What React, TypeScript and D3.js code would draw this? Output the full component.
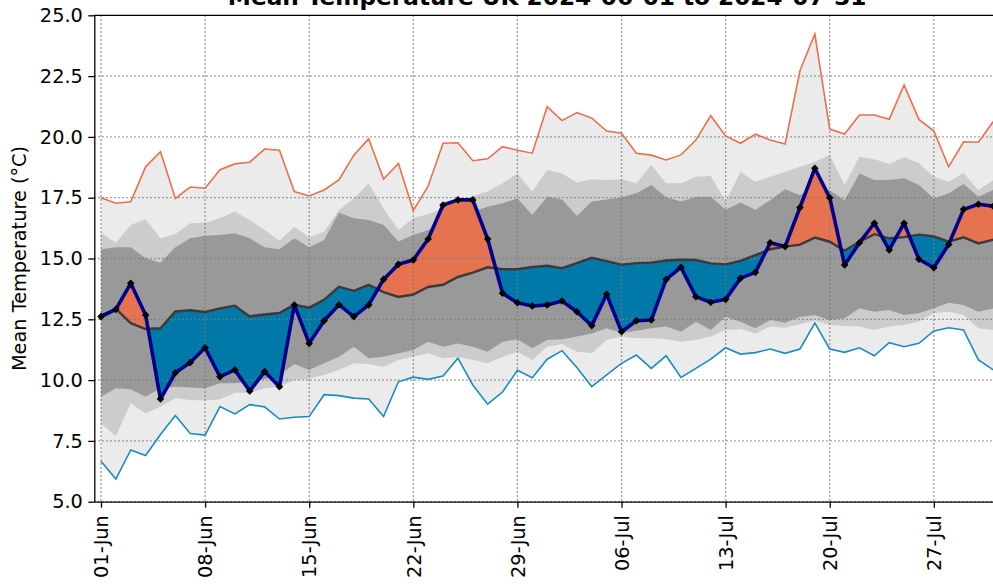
import React, { useRef, useEffect } from "react";
import * as d3 from "d3";

// daily values 2024-06-01 .. 2024-07-31
const observed = [
  12.61, 12.91, 13.98, 12.68, 9.22, 10.3, 10.72, 11.33, 10.14, 10.42,
  9.55, 10.35, 9.73, 13.09, 11.51, 12.44, 13.1, 12.61, 13.09, 14.14,
  14.76, 14.94, 15.8, 17.2, 17.41, 17.41, 15.8, 13.57, 13.18, 13.05,
  13.09, 13.25, 12.81, 12.24, 13.53, 11.99, 12.44, 12.47, 14.14, 14.64,
  13.43, 13.2, 13.32, 14.19, 14.43, 15.65, 15.49, 17.1, 18.71, 17.5,
  14.73, 15.65, 16.45, 15.35, 16.45, 14.97, 14.62, 15.58, 17.02, 17.23, 17.15
];

const climMean = [
  12.66, 12.93, 12.34, 12.1, 12.13, 12.82, 12.87, 12.8, 12.95, 13.06,
  12.62, 12.7, 12.76, 13.1, 12.98, 13.3, 13.84, 13.67, 13.92, 13.62,
  13.42, 13.52, 13.83, 13.92, 14.24, 14.42, 14.64, 14.56, 14.56, 14.65,
  14.7, 14.6, 14.81, 15.03, 14.89, 14.75, 14.81, 14.83, 14.92, 14.95,
  14.94, 14.8, 14.76, 14.9, 15.14, 15.38, 15.49, 15.57, 15.86, 15.69,
  15.32, 15.69, 16.0, 15.83, 15.88, 15.98, 15.91, 15.69, 15.87, 15.62, 15.77
];

const climMax = [
  17.5, 17.27, 17.33, 18.77, 19.39, 17.47, 17.94, 17.89, 18.65, 18.89,
  18.96, 19.5, 19.45, 17.75, 17.57, 17.82, 18.23, 19.25, 19.92, 18.27,
  18.91, 16.97, 17.98, 19.74, 19.76, 19.02, 19.1, 19.6, 19.45, 19.33,
  21.24, 20.67, 21.0, 20.77, 20.24, 20.15, 19.33, 19.25, 19.05, 19.26,
  19.87, 20.87, 20.04, 19.74, 20.11, 19.87, 19.71, 22.72, 24.23, 20.32,
  20.12, 20.9, 20.9, 20.72, 22.13, 20.72, 20.24, 18.77, 19.8, 19.78, 20.63
];

const climMin = [
  6.66, 5.93, 7.13, 6.9, 7.76, 8.54, 7.8, 7.74, 8.91, 8.61,
  8.99, 8.9, 8.4, 8.47, 8.5, 9.4, 9.36, 9.26, 9.22, 8.5,
  9.93, 10.12, 10.03, 10.17, 10.9, 9.8, 9.01, 9.51, 10.4, 10.1,
  10.86, 11.21, 10.52, 9.73, 10.21, 10.69, 11.03, 10.48, 11.0, 10.11,
  10.48, 10.86, 11.33, 11.07, 11.13, 11.28, 11.1, 11.28, 12.34, 11.28,
  11.14, 11.33, 11.0, 11.54, 11.37, 11.51, 12.02, 12.15, 12.06, 10.83, 10.42
];

// outer percentile band (light grey)
const outerHigh = [
  16.06, 15.65, 16.38, 16.61, 15.83, 16.01, 16.45, 16.47, 16.65, 16.93,
  16.58, 16.17, 15.73, 16.31, 15.87, 16.1, 16.99, 17.47, 18.09, 17.06,
  16.17, 16.65, 16.83, 17.07, 17.34, 17.57, 17.75, 18.09, 18.5, 17.75,
  18.64, 18.5, 18.12, 18.26, 18.23, 18.26, 18.09, 18.84, 18.09, 18.09,
  18.36, 18.39, 17.34, 18.56, 18.16, 18.36, 18.56, 18.77, 18.98, 19.26,
  18.02, 19.19, 19.08, 18.89, 19.16, 18.92, 18.36, 18.16, 18.52, 17.81, 18.23
];
const outerLow = [
  8.22, 7.7, 9.05, 8.63, 8.91, 9.25, 9.18, 9.16, 9.21, 9.48,
  9.48, 9.66, 9.73, 10.0, 10.07, 10.21, 10.42, 10.69, 10.66, 10.55,
  10.83, 10.96, 11.1, 10.9, 10.96, 10.83, 10.69, 10.96, 11.17, 10.83,
  11.37, 11.48, 11.17, 11.1, 11.65, 11.79, 11.72, 11.72, 11.68, 11.58,
  11.65, 11.79, 12.06, 12.1, 11.92, 12.2, 12.15, 12.3, 12.45, 12.27,
  12.22, 12.2, 12.06, 12.2, 12.27, 12.4, 12.75, 12.81, 12.68, 12.13, 12.06
];

// inner percentile band (dark grey)
const innerHigh = [
  15.38, 15.46, 15.46, 15.01, 14.83, 15.46, 15.83, 15.94, 15.97, 16.04,
  15.83, 15.46, 15.38, 15.83, 15.46, 15.76, 16.88, 16.65, 16.58, 16.38,
  15.7, 15.97, 16.17, 16.51, 16.75, 16.93, 17.13, 17.27, 17.47, 16.79,
  17.54, 17.43, 16.75, 17.34, 17.43, 17.52, 17.68, 18.02, 17.52, 17.34,
  17.54, 17.54, 17.0, 17.3, 17.0, 17.4, 17.85, 17.6, 18.0, 17.8,
  17.4, 18.5, 18.23, 18.23, 18.3, 18.02, 17.47, 17.68, 18.06, 17.54, 17.82
];
const innerLow = [
  9.32, 9.66, 9.62, 9.32, 9.66, 9.73, 9.7, 9.66, 9.87, 9.87,
  9.93, 10.03, 10.21, 10.66, 10.42, 10.69, 10.96, 11.37, 10.9, 10.96,
  11.1, 11.24, 11.58, 11.37, 11.51, 11.37, 11.17, 11.58, 11.68, 11.31,
  11.65, 11.68, 11.79, 11.92, 12.13, 11.95, 12.03, 12.13, 12.2, 11.99,
  12.4, 12.06, 12.61, 12.4, 12.13, 12.47, 12.36, 12.61, 12.68, 12.47,
  12.54, 12.95, 12.81, 12.88, 12.68, 12.75, 12.95, 13.18, 13.09, 12.81, 12.95
];

const xTickLabels = ["01-Jun", "08-Jun", "15-Jun", "22-Jun", "29-Jun", "06-Jul", "13-Jul", "20-Jul", "27-Jul"];
const yTicks = [5, 7.5, 10, 12.5, 15, 17.5, 20, 22.5, 25];

const title = "Mean Temperature UK 2024-06-01 to 2024-07-31";
const yTitle = "Mean Temperature (°C)";

function App() {
  const ref = useRef(null);

  const w = 993,
    h = 584;
  const left = 94.3,
    right = 1000,
    top = 15.3,
    bottom = 501.7;
  const font = "'DejaVu Sans', sans-serif";

  useEffect(() => {
    const root = d3.select(ref.current);
    root.selectAll("*").remove();

    const svg = root
      .append("svg")
      .attr("width", w)
      .attr("height", h)
      .style("position", "absolute")
      .style("left", 0)
      .style("top", 0)
      .style("background", "#fff");

    const start = new Date(Date.UTC(2024, 5, 1));
    const end = new Date(Date.UTC(2024, 7, 1));
    const dates = d3.utcDay.range(start, end);
    const day = 86400000;

    const x = d3
      .scaleUtc()
      .domain([new Date(+dates[0] - 0.45 * day), new Date(+dates[dates.length - 1] + 0.45 * day)])
      .range([left, right]);
    const y = d3.scaleLinear().domain([5, 25]).range([bottom, top]);

    const band = (hi, lo, color) => {
      const area = d3
        .area()
        .x((d, i) => x(dates[i]))
        .y0((d, i) => y(lo[i]))
        .y1((d, i) => y(hi[i]));
      svg.append("path").attr("d", area(dates)).attr("fill", color);
    };

    band(climMax, climMin, "#ebebeb");
    band(outerHigh, outerLow, "#cccccc");
    band(innerHigh, innerLow, "#999999");

    // anomaly fill, split where observed crosses the mean
    const pts = [];
    dates.forEach((d, i) => {
      pts.push({ t: +d, o: observed[i], m: climMean[i] });
      if (i < dates.length - 1) {
        const d0 = observed[i] - climMean[i];
        const d1 = observed[i + 1] - climMean[i + 1];
        if (d0 * d1 < 0) {
          const f = d0 / (d0 - d1);
          const v = climMean[i] + f * (climMean[i + 1] - climMean[i]);
          pts.push({ t: +d + f * day, o: v, m: v });
        }
      }
    });

    const warm = d3
      .area()
      .x(p => x(p.t))
      .y0(p => y(p.m))
      .y1(p => y(Math.max(p.o, p.m)));
    const cool = d3
      .area()
      .x(p => x(p.t))
      .y0(p => y(Math.min(p.o, p.m)))
      .y1(p => y(p.m));
    svg.append("path").attr("d", warm(pts)).attr("fill", "#e67350");
    svg.append("path").attr("d", cool(pts)).attr("fill", "#0079a9");

    // grid
    const tickDates = dates.filter((d, i) => i % 7 === 0);
    const grid = svg.append("g").attr("stroke", "#7a7a7a").attr("stroke-width", 1.3).attr("stroke-dasharray", "1.4,2.6");
    tickDates.forEach(d => {
      grid.append("line").attr("x1", x(d)).attr("x2", x(d)).attr("y1", top).attr("y2", bottom);
    });
    yTicks.forEach(v => {
      grid.append("line").attr("x1", left).attr("x2", right).attr("y1", y(v)).attr("y2", y(v));
    });

    const line = vals =>
      d3
        .line()
        .x((d, i) => x(dates[i]))
        .y(d => y(d))(vals);

    svg.append("path").attr("d", line(climMax)).attr("fill", "none").attr("stroke", "#e8704c").attr("stroke-width", 1.6);
    svg.append("path").attr("d", line(climMin)).attr("fill", "none").attr("stroke", "#1a8cbd").attr("stroke-width", 1.6);
    svg.append("path").attr("d", line(climMean)).attr("fill", "none").attr("stroke", "#3a3a3a").attr("stroke-width", 2.4);
    svg
      .append("path")
      .attr("d", line(observed))
      .attr("fill", "none")
      .attr("stroke", "#00008b")
      .attr("stroke-width", 3.6)
      .attr("stroke-linejoin", "round");

    const r = 3.8;
    svg
      .append("g")
      .selectAll("path")
      .data(observed)
      .enter()
      .append("path")
      .attr("transform", (d, i) => `translate(${x(dates[i])},${y(d)})`)
      .attr("d", `M0,${-r}L${r},0L0,${r}L${-r},0Z`)
      .attr("fill", "#000");

    // axes
    const yAxis = d3
      .axisLeft(y)
      .tickValues(yTicks)
      .tickFormat(d3.format(".1f"))
      .tickSize(6)
      .tickPadding(5.5)
      .tickSizeOuter(0);
    const gy = svg.append("g").attr("transform", `translate(${left},0)`).call(yAxis);
    gy.select(".domain").attr("stroke-width", 1.3);
    gy.selectAll(".tick line").attr("stroke-width", 1.3);
    gy.selectAll("text").attr("font-family", font).attr("font-size", 19.3).attr("fill", "#000");

    const xAxis = d3
      .axisBottom(x)
      .tickValues(tickDates)
      .tickFormat((d, i) => xTickLabels[i])
      .tickSize(6)
      .tickSizeOuter(0);
    const gx = svg.append("g").attr("transform", `translate(0,${bottom})`).call(xAxis);
    gx.select(".domain").attr("stroke-width", 1.3);
    gx.selectAll(".tick line").attr("stroke-width", 1.3);
    gx.selectAll("text")
      .attr("font-family", font)
      .attr("font-size", 19.3)
      .attr("fill", "#000")
      .attr("transform", "rotate(-90)")
      .attr("text-anchor", "end")
      .attr("x", -13.5)
      .attr("y", 0)
      .attr("dy", "0.35em");

    // top spine
    svg.append("line").attr("x1", left).attr("x2", right).attr("y1", top).attr("y2", top).attr("stroke", "#000").attr("stroke-width", 1.3);

    svg
      .append("text")
      .attr("x", (left + right) / 2)
      .attr("y", 5)
      .attr("text-anchor", "middle")
      .attr("font-family", font)
      .attr("font-weight", "bold")
      .attr("font-size", 23.2)
      .text(title);

    svg
      .append("text")
      .attr("transform", `translate(25.5,${(top + bottom) / 2}) rotate(-90)`)
      .attr("text-anchor", "middle")
      .attr("font-family", font)
      .attr("font-size", 19.3)
      .text(yTitle);
  }, []);

  return <div className="App" ref={ref}></div>;
}

export default App;
